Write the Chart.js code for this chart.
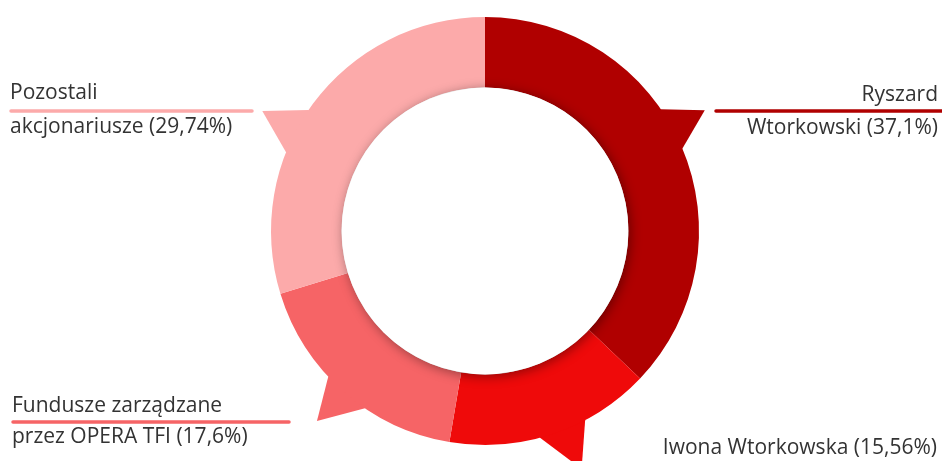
<!DOCTYPE html>
<html>
<head>
<meta charset="utf-8">
<script src="https://cdn.jsdelivr.net/npm/chart.js@4/dist/chart.umd.min.js"></script>
<style>
  html, body { margin: 0; padding: 0; background: #fff; }
  #wrap { width: 942px; height: 461px; position: relative; }
</style>
</head>
<body>
<div id="wrap"><canvas id="chart"></canvas></div>
<script>
// dane akcjonariatu
const nameLines = [
  ['Ryszard', 'Wtorkowski'],
  ['Iwona Wtorkowska'],
  ['Fundusze zarządzane', 'przez OPERA TFI'],
  ['Pozostali', 'akcjonariusze']
];
const shares = [37.1, 15.56, 17.6, 29.74];
const colors = ['#b00000', '#ef0a0a', '#f66466', '#fcaaaa'];

function pct(v) {
  return '(' + String(v).replace('.', ',') + '%)';
}

// ogonki (dymki) przy segmentach: kąty w stopniach, tip = promień względny
const tails = [
  { a1: -34.7, a2: -22.7, tipA: -28.8, tipR: 1.172 },
  { a1: 62.1, a2: 75.1, tipA: 67.9, tipR: 1.2 },
  { a1: 124.1, a2: 137.1, tipA: 131.5, tipR: 1.185 },
  { a1: 201.6, a2: 214.4, tipA: 208.3, tipR: 1.182 }
];

// pozycje opisów
const labelPos = [
  { x: 938, y: 101, align: 'right', gap: 33, line: [716, 942, 111] },
  { x: 937, y: 454, align: 'right', gap: 0, line: null },
  { x: 12, y: 412, align: 'left', gap: 31, line: [13, 289, 422] },
  { x: 10, y: 99, align: 'left', gap: 34, line: [11, 252, 111] }
];

const rad = d => d * Math.PI / 180;

const tailPlugin = {
  id: 'tails',
  beforeDatasetsDraw(chart) {
    const ctx = chart.ctx;
    const arcs = chart.getDatasetMeta(0).data;
    arcs.forEach((arc, i) => {
      const t = tails[i];
      const R = arc.outerRadius;
      const cx = arc.x, cy = arc.y;
      const r0 = R * 0.97;
      ctx.save();
      ctx.fillStyle = colors[i];
      ctx.beginPath();
      ctx.moveTo(cx + r0 * Math.cos(rad(t.a1)), cy + r0 * Math.sin(rad(t.a1)));
      ctx.lineTo(cx + R * Math.cos(rad(t.a1)), cy + R * Math.sin(rad(t.a1)));
      ctx.lineTo(cx + R * t.tipR * Math.cos(rad(t.tipA)), cy + R * t.tipR * Math.sin(rad(t.tipA)));
      ctx.lineTo(cx + R * Math.cos(rad(t.a2)), cy + R * Math.sin(rad(t.a2)));
      ctx.lineTo(cx + r0 * Math.cos(rad(t.a2)), cy + r0 * Math.sin(rad(t.a2)));
      ctx.closePath();
      ctx.fill();
      ctx.restore();
    });
  },
  afterDatasetsDraw(chart) {
    const ctx = chart.ctx;
    const arc = chart.getDatasetMeta(0).data[0];
    // cień wewnętrznego koła
    ctx.save();
    ctx.beginPath();
    ctx.arc(arc.x, arc.y, arc.innerRadius, 0, Math.PI * 2);
    ctx.fillStyle = '#ffffff';
    ctx.shadowColor = 'rgba(0,0,0,0.4)';
    ctx.shadowBlur = 12;
    ctx.shadowOffsetX = 2;
    ctx.shadowOffsetY = 2;
    ctx.fill();
    ctx.restore();
  }
};

const labelPlugin = {
  id: 'sideLabels',
  afterDraw(chart) {
    const ctx = chart.ctx;
    ctx.save();
    ctx.font = '21px "Open Sans", sans-serif';
    ctx.fillStyle = '#333333';
    ctx.textBaseline = 'alphabetic';
    nameLines.forEach((lines, i) => {
      const p = labelPos[i];
      ctx.textAlign = p.align;
      lines.forEach((txt, j) => {
        const last = j === lines.length - 1;
        ctx.fillText(last ? txt + ' ' + pct(shares[i]) : txt, p.x, p.y + j * p.gap);
      });
      if (p.line) {
        ctx.strokeStyle = colors[i];
        ctx.lineWidth = 3.5;
        ctx.lineCap = 'round';
        ctx.beginPath();
        ctx.moveTo(p.line[0], p.line[2]);
        ctx.lineTo(p.line[1], p.line[2]);
        ctx.stroke();
      }
    });
    ctx.restore();
  }
};

new Chart(document.getElementById('chart'), {
  type: 'doughnut',
  data: {
    labels: nameLines.map(l => l.join(' ')),
    datasets: [{
      data: shares,
      backgroundColor: colors,
      borderWidth: 0
    }]
  },
  options: {
    responsive: true,
    maintainAspectRatio: false,
    animation: false,
    cutout: '67%',
    rotation: 0,
    layout: { padding: { top: 17, bottom: 16, left: 28, right: 0 } },
    plugins: {
      legend: { display: false },
      tooltip: { enabled: false }
    }
  },
  plugins: [tailPlugin, labelPlugin]
});
</script>
</body>
</html>
